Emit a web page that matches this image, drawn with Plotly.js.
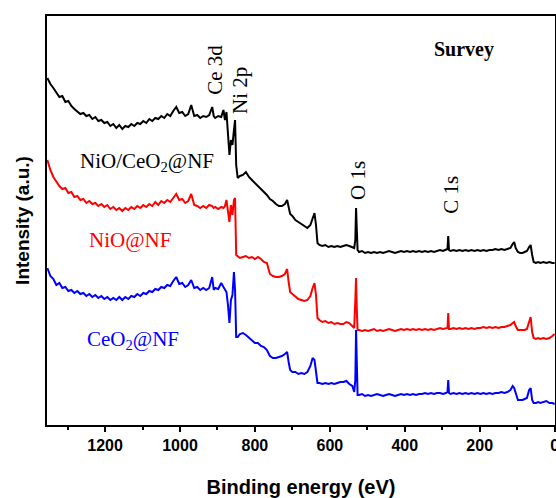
<!DOCTYPE html>
<html>
<head>
<meta charset="utf-8">
<script src="https://cdn.plot.ly/plotly-3.0.1.min.js"></script>
<style>html,body{margin:0;padding:0;background:#fff;}#chart{width:556px;height:498px;}</style>
</head>
<body>
<div id="chart"></div>
<script>
// Binding energy (eV) grid shared by the three spectra
const energy = [1354,1346,1338,1330,1322,1314,1306,1298,1290,1282,1274,1266,1258,1250,1242,1234,1226,1218,1210,1202,1194,1186,1178,1170,1162,1154,1146,1138,1130,1122,1114,1106,1098,1090,1082,1074,1066,1058,1050,1042,1034,1026,1018,1010,1002,994,986,978,970,962,954,946,938,930,922,914,910,906,898,890,884,880,876,872,868,864,860,856,853,850,846,840,832,824,816,808,800,792,784,776,768,760,752,744,736,728,720,714,710,706,700,692,684,676,668,660,652,646,641,637,633,628,620,612,604,596,588,580,572,564,556,548,540,535,532,530,528,526,522,514,506,498,490,482,474,466,458,450,442,434,426,418,410,402,394,386,378,370,362,354,346,338,330,322,314,306,298,290,286,284,282,278,270,262,254,246,238,230,222,214,206,198,190,182,174,166,158,150,142,134,126,118,112,108,104,98,92,86,80,74,68,64,60,56,50,44,38,30,22,14,6,0];

// Intensity (a.u., stacked/offset)
const nioCeo2 = [347,341,337,333,328,329,323,324,319,316,313,311,312,309,310,306,308,304,305,302,303,299,301,297,300,296,299,298,301,299,302,301,304,302,306,304,307,306,309,307,311,309,314,318,312,313,309,311,320,309,310,307,309,308,310,318,309,307,309,308,315,305,313,290,270,285,280,295,305,260,247,249,250,253,248,245,242,240,236,233,230,226,224,221,219,219,221,225,217,211,209,205,203,201,199,197,200,207,212,200,182,180,179,180,178,179,178,179,178,179,180,179,178,177,185,217,195,175,173,174,172,173,172,173,172,173,172,173,174,173,172,173,174,173,174,173,174,173,174,173,174,173,174,173,174,175,174,175,176,189,175,174,175,174,175,174,175,174,175,174,175,174,175,174,175,175,176,175,176,175,176,177,181,183,177,173,172,172,173,174,178,180,170,163,162,163,162,163,162,163,162,162];

const nio = [265,255,248,243,239,236,237,232,233,228,229,225,226,222,224,221,222,219,221,218,220,216,218,215,217,214,217,215,218,216,219,217,220,218,221,219,223,220,224,222,225,223,227,231,225,226,222,224,231,220,219,217,219,217,220,219,217,218,216,218,217,219,225,213,203,220,210,225,227,170,169,167,168,169,167,168,166,168,166,163,162,151,149,148,148,149,151,156,143,133,131,128,126,125,124,125,129,137,142,130,107,105,103,104,102,103,101,102,101,101,103,102,99,97,125,147,115,95,95,94,95,94,95,96,94,95,94,95,96,95,94,95,96,95,96,95,96,95,96,95,96,95,96,95,96,97,96,97,97,112,96,96,97,96,97,96,97,96,97,96,97,97,98,97,98,97,98,97,98,98,99,100,102,103,99,95,95,95,95,96,105,108,93,87,86,87,86,87,86,87,89,91];

const ceo2 = [157,149,146,140,142,137,138,134,135,132,134,131,132,129,131,128,130,127,129,126,128,125,127,125,128,125,128,126,129,128,131,129,132,131,134,133,136,135,138,137,140,139,144,148,141,142,138,140,145,137,138,135,137,135,137,148,135,137,136,142,138,136,133,120,102,125,130,153,135,88,88,91,92,90,87,84,82,82,79,78,75,69,67,67,68,69,71,73,63,55,53,53,51,52,51,53,59,67,65,53,42,42,41,42,41,42,41,42,43,43,44,41,39,33,45,95,55,30,30,31,29,30,29,30,31,30,29,30,31,30,29,30,31,30,31,30,31,30,31,31,32,31,32,31,32,32,31,32,33,45,32,31,32,31,32,31,32,31,32,31,32,31,32,31,32,31,32,32,33,32,33,35,39,37,31,25,25,25,26,27,35,37,25,22,22,23,22,23,24,22,22,21];

const seriesNames = ['NiO/CeO<sub>2</sub>@NF', 'NiO@NF', 'CeO<sub>2</sub>@NF'];
const tickValues = [0, 200, 400, 600, 800, 1000, 1200];
const peakLabels = ['Ce 3d', 'Ni 2p', 'O 1s', 'C 1s'];
const peakEnergies = [907, 840, 525, 277];

const colors = ['#000000', '#ff0000', '#0000ff'];
const ys = [nioCeo2, nio, ceo2];

const traces = ys.map((y, i) => ({
  x: energy, y: y, type: 'scatter', mode: 'lines', name: seriesNames[i],
  line: {color: colors[i], width: 2}, showlegend: false, hoverinfo: 'skip'
}));

const serif = 'Liberation Serif, Times New Roman, serif';
const peakY = [355, 335, 245, 230];
const annotations = peakLabels.map((t, i) => ({
  x: peakEnergies[i], y: peakY[i], xref: 'x', yref: 'y', text: t, showarrow: false,
  textangle: -90, font: {family: serif, size: 21, color: '#000'}
}));
annotations.push({x: 1088, y: 263, xref: 'x', yref: 'y', text: seriesNames[0], showarrow: false,
  font: {family: serif, size: 21, color: '#000'}});
annotations.push({x: 1133, y: 185, xref: 'x', yref: 'y', text: seriesNames[1], showarrow: false,
  font: {family: serif, size: 21, color: '#ff0000'}});
annotations.push({x: 1125, y: 85, xref: 'x', yref: 'y', text: seriesNames[2], showarrow: false,
  font: {family: serif, size: 21, color: '#0000ff'}});
annotations.push({x: 242, y: 376, xref: 'x', yref: 'y', text: 'Survey', showarrow: false,
  font: {family: serif, size: 20, color: '#000', weight: 'bold'}});

const layout = {
  width: 556, height: 498,
  margin: {l: 47, r: 1, t: 16, b: 73},
  paper_bgcolor: '#fff', plot_bgcolor: '#fff',
  showlegend: false,
  xaxis: {
    range: [1355, -1], tickvals: tickValues, ticktext: tickValues.map(String),
    ticks: 'outside', ticklen: 5, tickwidth: 2, tickcolor: '#000',
    ticklabeloverflow: 'allow',
    minor: {ticks: 'outside', dtick: 100, ticklen: 3, tickwidth: 2, tickcolor: '#000'},
    showline: true, linewidth: 2, linecolor: '#000', mirror: true,
    showgrid: false, zeroline: false,
    tickfont: {family: 'Liberation Sans, Arial, sans-serif', size: 16, color: '#000', weight: 'bold'},
    title: {text: 'Binding energy (eV)', font: {family: 'Liberation Sans, Arial, sans-serif', size: 20, color: '#000', weight: 'bold'}}
  },
  yaxis: {
    range: [0, 409], showticklabels: false, ticks: '',
    showline: true, linewidth: 2, linecolor: '#000', mirror: true,
    showgrid: false, zeroline: false,
    title: {text: 'Intensity (a.u.)', font: {family: 'Liberation Sans, Arial, sans-serif', size: 19, color: '#000', weight: 'bold'}, standoff: 10}
  },
  annotations: annotations
};

Plotly.newPlot('chart', traces, layout, {staticPlot: true, displayModeBar: false});
</script>
</body>
</html>
